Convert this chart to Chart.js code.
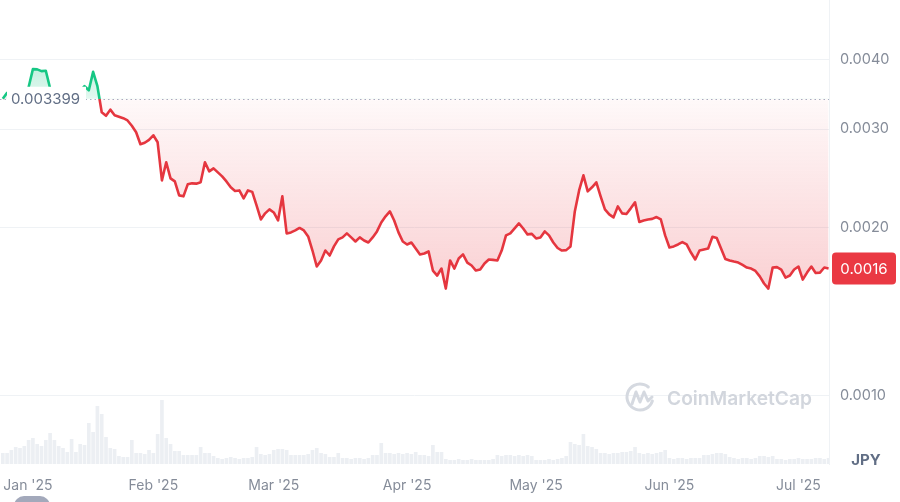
<!DOCTYPE html>
<html>
<head>
<meta charset="utf-8">
<script src="https://cdn.jsdelivr.net/npm/chart.js@4.4.1/dist/chart.umd.min.js"></script>
<style>
  html, body { margin: 0; padding: 0; background: #fff; }
</style>
</head>
<body>
<canvas class="js-chart" width="900" height="502"></canvas>
<script>
const ctx = document.querySelector('.js-chart').getContext('2d');

// days are counted from 1 Jan 2025, first point is 28 Dec 2024
const FIRST_DAY = -4;
const BASE_PRICE = 0.003399;   // price at the start of the range (dotted line)
const CURRENCY = 'JPY';

const monthLabels = ["Jan '25", "Feb '25", "Mar '25", "Apr '25", "May '25", "Jun '25", "Jul '25"];
const monthStartDays = [0, 31, 59, 90, 120, 151, 181];
const priceTicks = [0.001, 0.002, 0.003, 0.004];

// daily close
const prices = [
    0.003399, 0.003484, 0.003478, 0.003463, 0.003520, 0.003491, 0.003564, 0.003840, 0.003836, 0.003808,
    0.003815, 0.003550, 0.003491, 0.003463, 0.003520, 0.003491, 0.003520, 0.003491, 0.003506, 0.003579,
    0.003520, 0.003797, 0.003579, 0.003215, 0.003169, 0.003250, 0.003176, 0.003156, 0.003137, 0.003108,
    0.003041, 0.002961, 0.002818, 0.002835, 0.002870, 0.002924, 0.002841, 0.002428, 0.002616, 0.002449,
    0.002418, 0.002283, 0.002274, 0.002389, 0.002399, 0.002396, 0.002409, 0.002616, 0.002520, 0.002552,
    0.002510, 0.002469, 0.002418, 0.002360, 0.002325, 0.002330, 0.002255, 0.002330, 0.002316, 0.002191,
    0.002067, 0.002120, 0.002155, 0.002128, 0.002059, 0.002274, 0.001952, 0.001960, 0.001976, 0.001996,
    0.001976, 0.001928, 0.001819, 0.001703, 0.001746, 0.001819, 0.001782, 0.001850, 0.001904, 0.001920,
    0.001952, 0.001920, 0.001888, 0.001920, 0.001896, 0.001880, 0.001920, 0.001968, 0.002042, 0.002094,
    0.002137, 0.002059, 0.001960, 0.001888, 0.001865, 0.001880, 0.001834, 0.001790, 0.001797, 0.001812,
    0.001675, 0.001641, 0.001689, 0.001555, 0.001746, 0.001689, 0.001760, 0.001790, 0.001731, 0.001710,
    0.001675, 0.001682, 0.001724, 0.001753, 0.001750, 0.001746, 0.001819, 0.001936, 0.001952, 0.001992,
    0.002034, 0.001992, 0.001944, 0.001948, 0.001912, 0.001920, 0.001968, 0.001936, 0.001880, 0.001838,
    0.001819, 0.001822, 0.001850, 0.002137, 0.002330, 0.002479, 0.002321, 0.002360, 0.002409, 0.002274,
    0.002155, 0.002111, 0.002085, 0.002182, 0.002120, 0.002115, 0.002164, 0.002218, 0.002046, 0.002059,
    0.002067, 0.002072, 0.002088, 0.002067, 0.001936, 0.001842, 0.001850, 0.001865, 0.001883, 0.001865,
    0.001804, 0.001753, 0.001819, 0.001827, 0.001834, 0.001925, 0.001915, 0.001834, 0.001757, 0.001746,
    0.001738, 0.001731, 0.001714, 0.001696, 0.001689, 0.001672, 0.001635, 0.001588, 0.001555, 0.001696,
    0.001699, 0.001682, 0.001627, 0.001641, 0.001682, 0.001703, 0.001614, 0.001661, 0.001703, 0.001658,
    0.001661, 0.001696, 0.001689
];

// daily volume, relative units
const volumes = [
    11, 11, 14, 17, 16, 18, 24, 26, 20, 18,
    24, 31, 24, 18, 16, 12, 25, 12, 20, 19,
    41, 32, 58, 50, 27, 16, 15, 8, 7, 7,
    24, 11, 11, 10, 14, 11, 30, 64, 26, 20,
    13, 13, 9, 9, 9, 9, 17, 11, 11, 8,
    6, 5, 6, 7, 6, 5, 6, 6, 7, 17,
    10, 9, 10, 14, 15, 15, 14, 9, 9, 9,
    9, 10, 14, 16, 11, 10, 7, 7, 11, 6,
    6, 5, 6, 6, 5, 6, 9, 9, 21, 11,
    11, 10, 11, 10, 11, 10, 12, 9, 9, 8,
    19, 12, 12, 5, 4, 4, 5, 4, 4, 5,
    4, 4, 4, 4, 5, 9, 8, 9, 9, 8,
    9, 8, 9, 8, 4, 4, 4, 5, 4, 5,
    6, 8, 22, 20, 19, 30, 18, 17, 15, 11,
    11, 10, 11, 11, 12, 12, 13, 17, 11, 10,
    11, 10, 11, 12, 14, 6, 5, 6, 6, 5,
    6, 6, 6, 9, 9, 10, 11, 11, 10, 7,
    6, 5, 6, 6, 5, 6, 8, 8, 7, 8,
    5, 5, 4, 5, 5, 6, 5, 5, 5, 6,
    6, 5, 6
];

const UP = '#16c784';
const DOWN = '#e5363f';
const TICK_COLOR = '#858c99';
const FONT = 'Inter, "Noto Sans", sans-serif';

const days = prices.map((p, i) => FIRST_DAY + i);

function baseFraction(chart) {
    const a = chart.chartArea;
    const y = chart.scales.y.getPixelForValue(BASE_PRICE);
    return Math.min(1, Math.max(0, (y - a.top) / (a.bottom - a.top)));
}

function lineColor(context) {
    const chart = context.chart;
    if (!chart.chartArea) return DOWN;
    const f = baseFraction(chart);
    const g = chart.ctx.createLinearGradient(0, chart.chartArea.top, 0, chart.chartArea.bottom);
    g.addColorStop(0, UP);
    g.addColorStop(f, UP);
    g.addColorStop(f, DOWN);
    g.addColorStop(1, DOWN);
    return g;
}

function fillColor(context) {
    const chart = context.chart;
    if (!chart.chartArea) return 'rgba(234,57,67,0.1)';
    const f = baseFraction(chart);
    const g = chart.ctx.createLinearGradient(0, chart.chartArea.top, 0, chart.chartArea.bottom);
    g.addColorStop(0, 'rgba(22,199,132,0.55)');
    g.addColorStop(f, 'rgba(22,199,132,0.12)');
    g.addColorStop(f, 'rgba(234,57,67,0.03)');
    g.addColorStop(1, 'rgba(234,57,67,0.42)');
    return g;
}

const overlay = {
    id: 'overlay',
    beforeDatasetsDraw(chart) {
        const c = chart.ctx;
        const a = chart.chartArea;
        const y = Math.round(chart.scales.y.getPixelForValue(BASE_PRICE)) + 0.5;
        c.save();

        // watermark
        c.strokeStyle = '#d5d9e0';
        c.lineWidth = 3;
        c.lineCap = 'round';
        c.lineJoin = 'round';
        c.beginPath();
        c.arc(640, 397, 13, 0.1 * Math.PI, 1.72 * Math.PI);
        c.stroke();
        c.beginPath();
        c.moveTo(632, 404);
        c.lineTo(636, 392);
        c.lineTo(640, 402);
        c.lineTo(644, 392);
        c.lineTo(648, 401);
        c.lineTo(652, 397);
        c.stroke();
        c.fillStyle = '#d2d6dd';
        c.font = '600 18px ' + FONT;
        const w = c.measureText('CoinMarketCap').width;
        c.font = '600 ' + (18 * 145 / w).toFixed(2) + 'px ' + FONT;
        c.textBaseline = 'alphabetic';
        c.fillText('CoinMarketCap', 667, 405);

        // dotted base line
        c.setLineDash([1.5, 3]);
        c.lineWidth = 1;
        c.lineCap = 'butt';
        c.strokeStyle = '#a6b0c3';
        c.beginPath();
        c.moveTo(a.left, y);
        c.lineTo(a.right, y);
        c.stroke();
        c.restore();
    },
    afterDatasetsDraw(chart) {
        const c = chart.ctx;
        const y = chart.scales.y.getPixelForValue(BASE_PRICE);
        c.save();
        c.fillStyle = '#ffffff';
        c.fillRect(7, y - 12, 79, 24);
        c.fillStyle = '#616e85';
        c.font = '15px ' + FONT;
        c.textBaseline = 'middle';
        c.textAlign = 'left';
        c.fillText(BASE_PRICE.toString(), 11, y + 1);
        c.restore();
    },
    afterDraw(chart) {
        const c = chart.ctx;
        const a = chart.chartArea;
        const last = prices[prices.length - 1];
        const y = chart.scales.y.getPixelForValue(last);
        c.save();
        // last price badge
        c.fillStyle = '#ea3943';
        c.beginPath();
        c.roundRect(a.right + 3, y - 16, 64, 32, 4);
        c.fill();
        c.fillStyle = '#ffffff';
        c.font = '15px ' + FONT;
        c.textAlign = 'center';
        c.textBaseline = 'middle';
        c.fillText((Math.floor(last * 1e4) / 1e4).toFixed(4), a.right + 35, y + 1);
        // currency
        c.fillStyle = '#616e85';
        c.font = 'bold 15px ' + FONT;
        c.fillText(CURRENCY, 866, 460);
        // scroll handle peeking at the bottom
        c.fillStyle = '#a3a9bb';
        c.beginPath();
        c.roundRect(14, 496, 36, 20, 10);
        c.fill();
        c.restore();
    }
};

new Chart(ctx, {
    type: 'line',
    data: {
        datasets: [
            {
                type: 'line',
                label: 'Price',
                data: prices.map((p, i) => ({x: days[i], y: p})),
                yAxisID: 'y',
                borderColor: lineColor,
                backgroundColor: fillColor,
                borderWidth: 2.6,
                borderJoinStyle: 'round',
                pointRadius: 0,
                tension: 0,
                fill: {value: BASE_PRICE},
                order: 1
            },
            {
                type: 'bar',
                label: 'Volume',
                data: volumes.map((v, i) => ({x: days[i], y: v})),
                yAxisID: 'yv',
                backgroundColor: '#eceff3',
                barPercentage: 0.85,
                categoryPercentage: 1,
                order: 2
            }
        ]
    },
    options: {
        responsive: false,
        animation: false,
        layout: {padding: 0},
        plugins: {
            legend: {display: false},
            tooltip: {enabled: false}
        },
        scales: {
            x: {
                type: 'linear',
                min: -4.65,
                max: 188.1,
                bounds: 'data',
                offset: false,
                grid: {display: false, drawTicks: false},
                border: {display: false},
                afterBuildTicks(scale) {
                    // keep the first month label fully inside the canvas
                    scale.ticks = monthStartDays.map(v => ({value: Math.max(v, scale.min + 6.5)}));
                },
                afterFit(scale) {
                    scale.height = 38;
                    scale.paddingLeft = 0;
                    scale.paddingRight = 0;
                },
                ticks: {
                    callback(value, index) {
                        return monthLabels[index];
                    },
                    autoSkip: false,
                    maxRotation: 0,
                    padding: 13,
                    color: TICK_COLOR,
                    font: {family: FONT, size: 14}
                }
            },
            y: {
                type: 'logarithmic',
                position: 'right',
                min: 0.000755,
                max: 0.005105,
                bounds: 'data',
                grid: {color: '#eff2f5', drawTicks: false},
                border: {display: true, color: '#eff2f5'},
                afterBuildTicks(scale) {
                    scale.ticks = priceTicks.map(v => ({value: v}));
                },
                afterFit(scale) {
                    scale.width = 71;
                    scale.paddingTop = 0;
                    scale.paddingBottom = 0;
                },
                ticks: {
                    callback(value) {
                        return value.toFixed(4);
                    },
                    crossAlign: 'near',
                    padding: 11,
                    color: TICK_COLOR,
                    font: {family: FONT, size: 14.5}
                }
            },
            yv: {
                type: 'linear',
                display: false,
                min: 0,
                max: 464
            }
        }
    },
    plugins: [overlay]
});
</script>
</body>
</html>
